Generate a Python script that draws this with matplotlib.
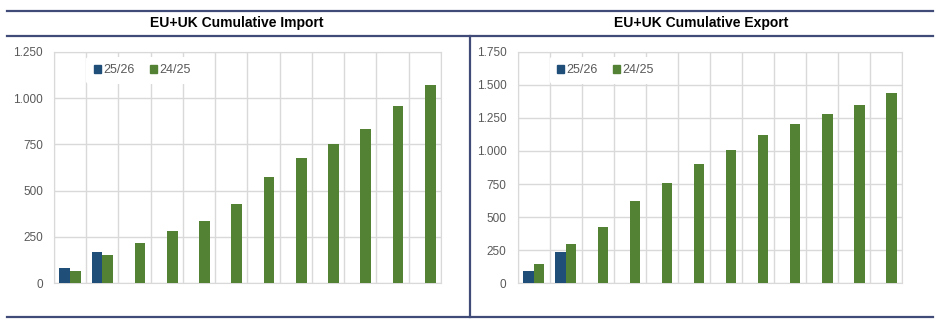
import matplotlib
matplotlib.use("Agg")
import matplotlib.pyplot as plt
import numpy as np
from matplotlib.lines import Line2D
from matplotlib.patches import Patch
from matplotlib.ticker import FuncFormatter, MultipleLocator

plt.rcParams['font.family'] = ['Liberation Sans', 'DejaVu Sans']

# cumulative volumes, 12 months per season
imp_2526 = [81, 171]
imp_2425 = [67, 153, 216, 284, 335, 426, 572, 674, 750, 835, 957, 1070]
exp_2526 = [96, 239]
exp_2425 = [146, 295, 423, 619, 758, 904, 1007, 1123, 1201, 1282, 1347, 1435]

titles = ["EU+UK Cumulative Import", "EU+UK Cumulative Export"]
ymaxes = [1250, 1750]

blue = '#1F4E79'
green = '#548235'
grid_c = '#D9D9D9'
line_c = '#404B78'

W, H = 945, 325
fig = plt.figure(figsize=(W / 100, H / 100), dpi=100)


def thousands(v, pos):
    return f"{int(v):,}".replace(",", ".")


def draw(ax, new, old, ymax):
    n = len(old)
    w = 0.33
    x = np.arange(n)
    ax.bar(x[:len(new)] - w / 2, new, width=w, color=blue, zorder=3)
    ax.bar(x + w / 2, old, width=w, color=green, zorder=3)
    ax.set_xlim(-0.5, n - 0.5)
    ax.set_ylim(0, ymax)
    ax.yaxis.set_major_locator(MultipleLocator(250))
    ax.yaxis.set_major_formatter(FuncFormatter(thousands))
    ax.set_xticks(np.arange(-0.5, n, 1))
    ax.set_xticklabels([])
    ax.tick_params(length=0, labelsize=8.5, labelcolor='#595959', pad=8)
    ax.grid(True, color=grid_c, linewidth=1, zorder=0)
    for s in ax.spines.values():
        s.set_color(grid_c)
    handles = [Patch(color=blue, label='25/26'), Patch(color=green, label='24/25')]
    leg = ax.legend(handles=handles, ncol=2, loc='center', bbox_to_anchor=(0.228, 0.92),
                    frameon=True, fontsize=9, handlelength=0.55, handleheight=0.55,
                    handletextpad=0.2, columnspacing=1.2, borderpad=0.6)
    leg.get_frame().set_edgecolor('none')
    leg.get_frame().set_facecolor('white')
    leg.get_frame().set_alpha(1)
    for t in leg.get_texts():
        t.set_color('#595959')


ax1 = fig.add_axes([54 / W, 1 - 283.3 / H, 387 / W, 231.6 / H])
draw(ax1, imp_2526, imp_2425, ymaxes[0])
ax2 = fig.add_axes([517.7 / W, 1 - 283.3 / H, 384.3 / W, 231.6 / H])
draw(ax2, exp_2526, exp_2425, ymaxes[1])

# titles
fig.text(237 / W, 1 - 23 / H, titles[0], ha='center', va='center', fontsize=10, fontweight='bold')
fig.text(701 / W, 1 - 23 / H, titles[1], ha='center', va='center', fontsize=10, fontweight='bold')

# frame lines
for yy in [11, 36, 317]:
    fig.add_artist(Line2D([7 / W, 933 / W], [1 - yy / H, 1 - yy / H], color=line_c, linewidth=1.6))
fig.add_artist(Line2D([470 / W, 470 / W], [1 - 36 / H, 1 - 317 / H], color=line_c, linewidth=1.6))

plt.savefig("out.png", dpi=100)
